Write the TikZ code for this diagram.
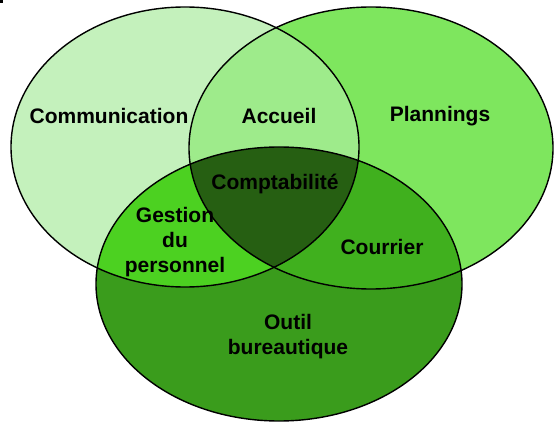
\documentclass[tikz,border=0pt]{standalone}
\usepackage{fontspec}
\setmainfont{Liberation Sans}
\usepackage{xcolor}
\usepackage{tikz}
\usetikzlibrary{positioning}

\definecolor{vertA}{HTML}{C4F1BC}
\definecolor{vertB}{HTML}{7EE65E}
\definecolor{vertC}{HTML}{3A9C1C}
\definecolor{vertAB}{HTML}{9EEB8B}
\definecolor{vertAC}{HTML}{4CD121}
\definecolor{vertBC}{HTML}{40B01E}
\definecolor{vertABC}{HTML}{265F12}

\newcommand{\ensA}{(185,147) ellipse [x radius=174, y radius=140]}
\newcommand{\ensB}{(371,148) ellipse [x radius=182, y radius=141]}
\newcommand{\ensC}{(279,284) ellipse [x radius=183, y radius=137]}

\tikzset{
  etiquette/.style={font=\fontsize{21}{25}\selectfont\bfseries, align=center, inner sep=0pt},
  contour/.style={draw=black, line width=1.4pt}
}

\begin{document}
\begin{tikzpicture}[x=1pt, y=-1pt]

  \useasboundingbox (0,0) rectangle (554,422);
  \fill[black] (0,0) rectangle (3,3);

  % Ensembles
  \fill[vertA] \ensA;
  \fill[vertB] \ensB;
  \fill[vertC] \ensC;

  % Intersections
  \begin{scope}
    \clip \ensA;
    \fill[vertAB] \ensB;
    \fill[vertAC] \ensC;
  \end{scope}
  \begin{scope}
    \clip \ensB;
    \fill[vertBC] \ensC;
  \end{scope}
  \begin{scope}
    \clip \ensA;
    \clip \ensB;
    \fill[vertABC] \ensC;
  \end{scope}

  % Contours
  \draw[contour] \ensA;
  \draw[contour] \ensB;
  \draw[contour] \ensC;

  % Étiquettes
  \node[etiquette] (comm) at (109,116) {Communication};
  \node[etiquette] (accueil) at (279,116) {Accueil};
  \node[etiquette] (plan) at (440,116) {Plannings};
  \node[etiquette] (compta) at (275,184) {Comptabilité};
  \node[etiquette] (gestion) at (175,242) {Gestion\\du\\personnel};
  \node[etiquette] (courrier) at (382,247) {Courrier};
  \node[etiquette] (outil) at (288,337) {Outil\\bureautique};

\end{tikzpicture}
\end{document}
